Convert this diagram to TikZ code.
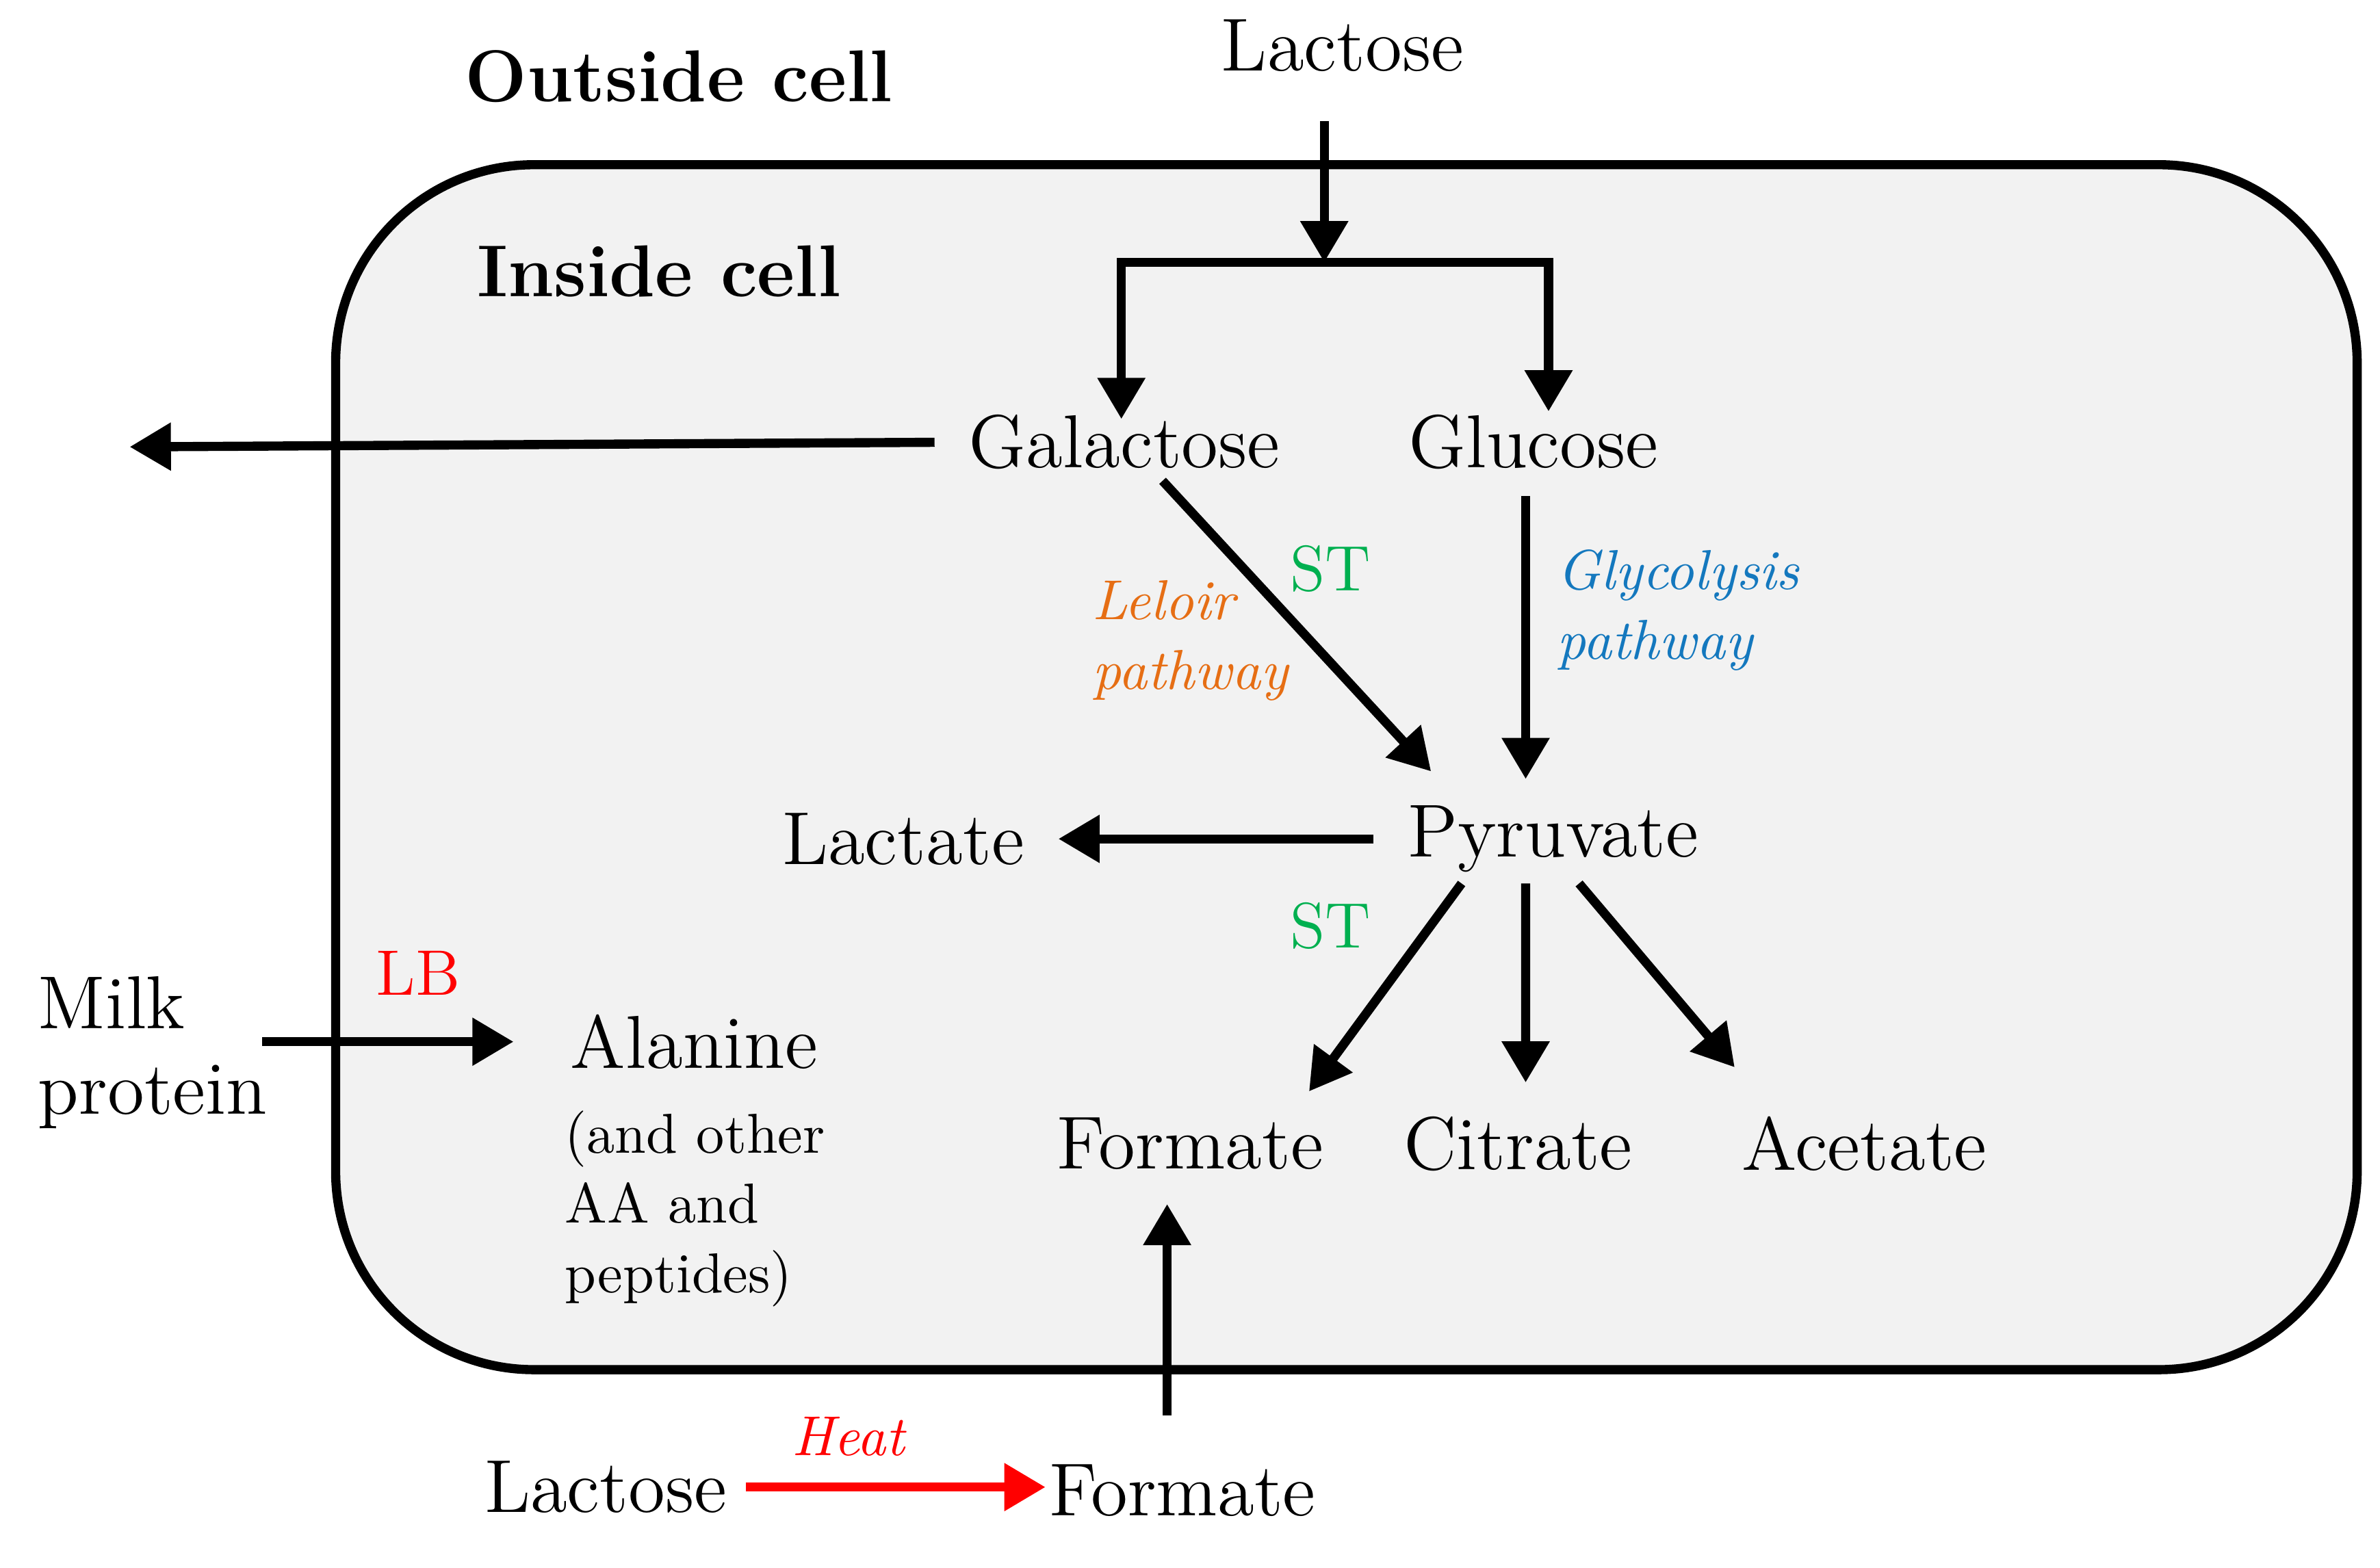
\documentclass[tikz,border=0pt]{standalone}
\usetikzlibrary{arrows.meta}
\tikzset{
  big/.style={font=\fontsize{14}{16}\selectfont},
  small/.style={font=\fontsize{10.5}{13}\selectfont},
  arr/.style={line width=0.06cm,-{Triangle[length=0.27cm,width=0.3cm]}},
  lbl/.style={font=\fontsize{12}{14}\selectfont}
}
\definecolor{stgreen}{RGB}{0,176,80}
\definecolor{leloir}{RGB}{230,110,20}
\definecolor{glyco}{RGB}{20,120,190}
\definecolor{cellgray}{RGB}{242,242,242}
\begin{document}
\begin{tikzpicture}
\useasboundingbox (0,0) rectangle (15.6,10.28);
% cell
\draw[line width=0.06cm,fill=cellgray,rounded corners=1.3cm] (2.2,1.3) rectangle (15.45,9.2);
\node[font=\bfseries\fontsize{13.7}{16}\selectfont] (outside) at (4.45,9.78) {Outside cell};
\node[font=\bfseries\fontsize{13.7}{16}\selectfont] (inside) at (4.32,8.5) {Inside cell};
% sugars
\node[big] (lac) at (8.8,9.98) {Lactose};
\node[big] (gal) at (7.37,7.38) {Galactose};
\node[big] (glu) at (10.05,7.38) {Glucose};
\node[big] (pyr) at (10.18,4.78) {Pyruvate};
\node[big] (lact) at (5.92,4.78) {Lactate};
\node[big] (form) at (7.8,2.78) {Formate};
\node[big] (cit) at (9.95,2.78) {Citrate};
\node[big] (acet) at (12.22,2.78) {Acetate};
\node[big,align=left] (milk) at (1.0,3.38) {Milk\\protein};
\node[big] (ala) at (4.55,3.45) {Alanine};
\node[small,align=left,anchor=north west] (aa) at (3.58,3.12) {(and other\\AA and\\peptides)};
\node[big] (lac2) at (3.97,0.53) {Lactose};
\node[big] (form2) at (7.75,0.51) {Formate};
% labels
\node[lbl,text=stgreen] (st1) at (8.72,6.55) {ST};
\node[lbl,text=stgreen] (st2) at (8.72,4.21) {ST};
\node[lbl,text=red] (lb) at (2.74,3.9) {LB};
\node[small,text=leloir,font=\itshape\fontsize{10.5}{13}\selectfont,align=left] (leloirp) at (7.8,6.08) {Leloir\\pathway};
\node[small,text=glyco,font=\itshape\fontsize{10.5}{13}\selectfont,align=left] (glycop) at (11.0,6.28) {Glycolysis\\pathway};
\node[text=red,font=\itshape\fontsize{10.5}{13}\selectfont] (heat) at (5.56,0.86) {Heat};
% coordinates
\coordinate (split) at (8.68,8.56);
\coordinate (gl) at (7.35,8.56);
\coordinate (gr) at (10.15,8.56);
\coordinate (out) at (0.85,7.35);
\coordinate (milkout) at (1.72,3.45);
\coordinate (formin) at (7.65,1.0);
% connectors
\draw[arr] (lac.south -| split) ++(0,-0.2) -- (split);
\draw[arr] (split) -- (gl) -- ([yshift=-0.15cm]gal.north -| gl);
\draw[arr] (split) -- (gr) -- ([yshift=-0.1cm]glu.north -| gr);
\draw[arr] ([xshift=-0.1cm]gal.west) -- (out);
\draw[arr] ([xshift=0.25cm,yshift=0.05cm]gal.south) -- ([xshift=-0.8cm,yshift=0.1cm]pyr.north);
\draw[arr] ([xshift=-0.05cm,yshift=-0.05cm]glu.south) -- ([xshift=-0.18cm,yshift=0.05cm]pyr.north);
\draw[arr] ([xshift=-0.1cm]pyr.west) -- ([xshift=0.1cm]lact.east);
\draw[arr] ([xshift=-0.6cm,yshift=0.05cm]pyr.south) -- ([xshift=0.78cm,yshift=0.05cm]form.north);
\draw[arr] ([xshift=-0.18cm,yshift=0.05cm]pyr.south) -- ([xshift=0.05cm,yshift=0.1cm]cit.north);
\draw[arr] ([xshift=0.17cm,yshift=0.05cm]pyr.south) -- ([xshift=-0.85cm,yshift=0.2cm]acet.north);
\draw[arr] (milkout) -- ([xshift=-0.25cm]ala.west |- milkout);
\draw[arr] (formin) -- ([yshift=-0.1cm]form.south -| formin);
\draw[arr,red] (lac2.east) -- ([xshift=0.1cm]form2.west |- lac2.east);
\end{tikzpicture}
\end{document}
